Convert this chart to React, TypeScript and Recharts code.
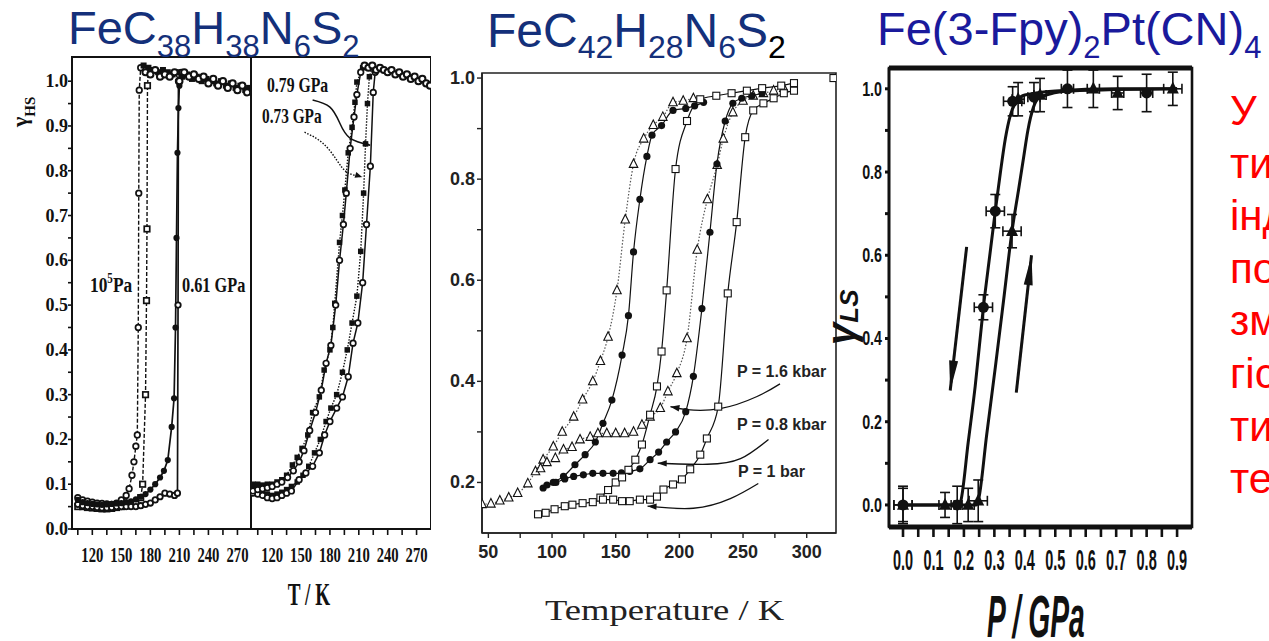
import React from "react";
import {
  ComposedChart,
  Line,
  Scatter,
  XAxis,
  YAxis,
  ReferenceArea,
  ReferenceLine,
  ErrorBar,
} from "recharts";

type Pt = [number, number];
type ErrPt = [number, number, number, number]; // x, y, x-error, y-error

// ---- FeC38H38N6S2, left frame: 10^5 Pa (dashed) and 0.61 GPa (solid) ----
const atmCooling: Pt[] = [
  [105, 0.07], [110, 0.065], [115, 0.062], [120, 0.06], [125, 0.058], [130, 0.057],
  [135, 0.056], [140, 0.055], [145, 0.058], [150, 0.065], [155, 0.075], [158, 0.09],
  [161, 0.12], [163, 0.15], [165, 0.185], [166.5, 0.21], [167.5, 0.45], [168, 0.75],
  [168.5, 0.98], [170, 1.03],
];
const atmHeating: Pt[] = [
  [105, 0.05], [110, 0.05], [115, 0.048], [120, 0.047], [125, 0.046], [130, 0.045],
  [135, 0.045], [140, 0.046], [145, 0.048], [150, 0.05], [155, 0.052], [160, 0.055],
  [165, 0.058], [170, 0.07], [172, 0.1], [175, 0.3], [176, 0.51], [176.5, 0.67],
  [177, 0.99], [178, 1.02],
];
const gpa061Heating: Pt[] = [
  [105, 0.065], [110, 0.06], [115, 0.058], [120, 0.056], [125, 0.055], [130, 0.054],
  [135, 0.055], [140, 0.056], [145, 0.057], [150, 0.058], [155, 0.06], [160, 0.062],
  [165, 0.066], [170, 0.072], [175, 0.078], [180, 0.088], [185, 0.1], [190, 0.115],
  [194, 0.13], [198, 0.154], [202, 0.228], [204.5, 0.292], [206, 0.45], [207, 0.65],
  [208, 0.84], [209, 0.94], [210, 0.99], [212, 1.01],
];
const gpa061Cooling: Pt[] = [
  [105, 0.055], [110, 0.052], [115, 0.05], [120, 0.05], [125, 0.048], [130, 0.047],
  [135, 0.047], [140, 0.048], [145, 0.05], [150, 0.05], [155, 0.05], [160, 0.05],
  [165, 0.05], [170, 0.052], [175, 0.055], [180, 0.058], [185, 0.065], [190, 0.072],
  [195, 0.08], [200, 0.078], [205, 0.075], [208, 0.08], [208.6, 0.5], [209, 1.0],
  [212, 1.02],
];
const hsPlateauSq: Pt[] = [
  [173, 1.035], [178, 1.03], [183, 1.025], [188, 1.02], [193, 1.025], [198, 1.02],
  [203, 1.015], [208, 1.02], [213, 1.01], [218, 1.015], [223, 1.005], [228, 1.01],
  [233, 1.0], [238, 1.005], [243, 1.0], [248, 0.995], [253, 1.0], [258, 0.99],
  [263, 0.995], [268, 0.985], [273, 0.99], [278, 0.98], [282, 0.985],
];
const hsPlateauCirc: Pt[] = [
  [175, 1.02], [180, 1.015], [185, 1.025], [190, 1.01], [195, 1.015], [200, 1.01],
  [205, 1.02], [210, 1.0], [215, 1.02], [220, 1.01], [225, 1.015], [230, 1.005],
  [235, 1.01], [240, 0.995], [245, 1.005], [250, 0.99], [255, 1.0], [260, 0.985],
  [265, 0.995], [270, 0.98], [275, 0.99], [280, 0.975],
];

// ---- FeC38H38N6S2, right frame: 0.79 GPa / 0.73 GPa ----
const gpa079Sq: Pt[] = [
  [100, 0.1], [105, 0.1], [110, 0.098], [115, 0.1], [120, 0.1], [125, 0.105],
  [130, 0.11], [135, 0.12], [141, 0.143], [146, 0.16], [151, 0.18], [157, 0.21],
  [162, 0.26], [169, 0.295], [174, 0.355], [180, 0.4], [183, 0.45], [185, 0.504],
  [190, 0.64], [193, 0.7], [195.5, 0.757], [199, 0.84], [203, 0.897], [206, 0.953],
  [208, 0.998], [214, 1.03],
];
const gpa079Circ: Pt[] = [
  [100, 0.085], [105, 0.088], [110, 0.09], [115, 0.092], [120, 0.095], [125, 0.1],
  [130, 0.105], [136, 0.115], [142, 0.13], [148, 0.15], [153, 0.175], [159, 0.22],
  [165, 0.26], [171, 0.31], [176, 0.37], [181, 0.41], [186, 0.5], [190, 0.6],
  [194, 0.68], [197, 0.75], [201, 0.85], [205, 0.92], [208, 0.97], [212, 1.02],
];
const gpa073Sq: Pt[] = [
  [100, 0.09], [105, 0.085], [110, 0.08], [115, 0.078], [120, 0.075], [125, 0.078],
  [130, 0.082], [135, 0.088], [140, 0.095], [146, 0.105], [152, 0.12], [158, 0.14],
  [164, 0.17], [170, 0.2], [176, 0.24], [181, 0.27], [187, 0.3], [193, 0.35],
  [198, 0.4], [203, 0.46], [208, 0.52], [212, 0.62], [215, 0.75], [217, 0.86],
  [219, 0.95], [221, 1.01], [224, 1.03],
];
const gpa073Circ: Pt[] = [
  [100, 0.08], [105, 0.078], [110, 0.075], [115, 0.07], [120, 0.068], [125, 0.07],
  [130, 0.075], [135, 0.08], [140, 0.085], [148, 0.11], [155, 0.125], [162, 0.14],
  [169, 0.17], [174.5, 0.21], [180, 0.24], [187, 0.27], [193, 0.295], [199, 0.34],
  [204, 0.415], [209, 0.46], [214, 0.55], [218, 0.68], [222, 0.81], [225, 0.975],
  [227, 1.02],
];
const hsPlateauHi: Pt[] = [
  [216, 1.035], [220, 1.03], [224, 1.035], [228, 1.025], [232, 1.03], [236, 1.025],
  [240, 1.02], [244, 1.025], [248, 1.015], [252, 1.02], [256, 1.01], [260, 1.015],
  [264, 1.005], [268, 1.01], [272, 1.0], [276, 1.005], [280, 0.995], [284, 0.99],
];
const arrow079: Pt[] = [[162, 0.958], [180, 0.942], [190.3, 0.906], [200.8, 0.873], [221.8, 0.857]];
const arrow073: Pt[] = [[153.6, 0.886], [172.4, 0.862], [187, 0.824], [197.6, 0.797], [213.4, 0.786]];

const hsTempTicks = [105, 120, 135, 150, 165, 180, 195, 210, 225, 240, 255, 270];
const hsFracTicks = [
  0, 0.05, 0.1, 0.15, 0.2, 0.25, 0.3, 0.35, 0.4, 0.45, 0.5,
  0.55, 0.6, 0.65, 0.7, 0.75, 0.8, 0.85, 0.9, 0.95, 1.0,
];

// ---- FeC42H28N6S2: P = 1.6 kbar (triangles), 0.8 kbar (dots), 1 bar (squares) ----
const tri16Cooling: Pt[] = [
  [45, 0.157], [52, 0.158], [59, 0.164], [66, 0.17], [73, 0.179], [81, 0.198],
  [87, 0.222], [93, 0.245], [101, 0.271], [108, 0.3], [117, 0.33], [124, 0.364],
  [132, 0.4], [138, 0.44], [144, 0.488], [151, 0.58], [157.5, 0.72], [164, 0.83],
  [172, 0.88], [179.5, 0.907], [187, 0.923], [195, 0.952], [203, 0.955], [211, 0.96],
];
const tri16Heating: Pt[] = [
  [91, 0.228], [96, 0.24], [102.6, 0.248], [109, 0.265], [115.7, 0.27], [122, 0.285],
  [130, 0.29], [136, 0.297], [143, 0.297], [150, 0.297], [157, 0.297], [164, 0.3],
  [170.6, 0.314], [177, 0.33], [185, 0.347], [191, 0.38], [198, 0.416], [206, 0.485],
  [214, 0.66], [222, 0.76], [229.7, 0.828], [234.5, 0.88], [242, 0.932], [250, 0.955],
  [258, 0.965], [266, 0.97], [274, 0.975], [282, 0.98],
];
const dot08Cooling: Pt[] = [
  [93, 0.189], [101, 0.2], [109, 0.212], [118, 0.235], [126, 0.255], [134, 0.28],
  [140, 0.317], [147, 0.363], [155, 0.452], [160, 0.53], [164, 0.656], [169, 0.76],
  [174.5, 0.845], [178.5, 0.887], [186, 0.906], [195, 0.936], [205, 0.94], [212, 0.945],
  [219, 0.952],
];
const dot08Heating: Pt[] = [
  [96, 0.195], [103, 0.2], [110, 0.207], [117, 0.212], [124.6, 0.215], [132, 0.218],
  [140, 0.218], [148, 0.218], [154.5, 0.219], [161, 0.222], [169, 0.227], [177, 0.245],
  [183.7, 0.26], [190, 0.28], [197, 0.3], [205, 0.34], [211, 0.41], [217.7, 0.544],
  [224, 0.695], [229.5, 0.83], [236, 0.915], [242, 0.95], [249, 0.96], [257, 0.965],
  [265, 0.97],
];
const sq1Heating: Pt[] = [
  [89, 0.137], [95, 0.14], [102, 0.147], [110, 0.153], [116, 0.156], [124, 0.159],
  [132, 0.161], [140, 0.166], [148, 0.166], [155, 0.163], [161, 0.163], [169, 0.166],
  [177, 0.166], [182.4, 0.172], [187.5, 0.186], [195, 0.196], [202, 0.206],
  [208.5, 0.226], [216.4, 0.255], [221.6, 0.287], [230.5, 0.35], [238, 0.574],
  [245, 0.715], [251.7, 0.883], [258, 0.936], [266, 0.95], [274, 0.96], [282, 0.97],
  [290, 0.975],
];
const sq1Cooling: Pt[] = [
  [138, 0.17], [144, 0.185], [150, 0.2], [155, 0.21], [160, 0.225], [165.4, 0.245],
  [170.6, 0.275], [177, 0.334], [182.4, 0.39], [186, 0.459], [190, 0.58], [197, 0.82],
  [206, 0.915], [216.4, 0.958], [229, 0.965], [241, 0.97], [253, 0.975], [265, 0.98],
  [280, 0.985], [290, 0.99],
];
const sq1Edge: Pt[] = [[321, 1.0]];
const arrow16: Pt[] = [[279, 0.395], [261, 0.37], [232, 0.346], [206, 0.344], [193, 0.35]];
const arrow08: Pt[] = [[270, 0.285], [248, 0.247], [222, 0.236], [183, 0.238]];
const arrow1: Pt[] = [[262, 0.198], [240, 0.168], [211, 0.149], [175, 0.153]];

const lsTempTicks = [50, 75, 100, 125, 150, 175, 200, 225, 250, 275, 300];
const lsFracTicks = [0.2, 0.3, 0.4, 0.5, 0.6, 0.7, 0.8, 0.9, 1.0];

// ---- Fe(3-Fpy)2Pt(CN)4 versus pressure ----
const fpyCircles: ErrPt[] = [
  [0.0, 0.0, 0.03, 0.045], [0.178, 0.0, 0.01, 0.045], [0.264, 0.475, 0.03, 0.03],
  [0.303, 0.706, 0.03, 0.04], [0.36, 0.97, 0.03, 0.035], [0.43, 0.98, 0.02, 0.035],
  [0.54, 1.0, 0.02, 0.045], [0.8, 0.99, 0.02, 0.045],
];
const fpyTriangles: ErrPt[] = [
  [0.0, 0.0, 0.03, 0.04], [0.138, 0.0, 0.02, 0.03], [0.214, 0.0, 0.02, 0.04],
  [0.247, 0.01, 0.03, 0.05], [0.358, 0.658, 0.03, 0.04], [0.378, 0.975, 0.02, 0.04],
  [0.45, 0.985, 0.02, 0.04], [0.625, 1.0, 0.02, 0.045], [0.705, 0.99, 0.02, 0.04],
  [0.886, 1.0, 0.03, 0.04],
];
const fpyFitDown: Pt[] = [
  [0, 0], [0.1, 0], [0.185, 0], [0.19, 0.01], [0.214, 0.15], [0.237, 0.285],
  [0.264, 0.475], [0.285, 0.6], [0.303, 0.706], [0.32, 0.8], [0.336, 0.88],
  [0.352, 0.935], [0.368, 0.965], [0.4, 0.985], [0.5, 0.995], [0.7, 1.0], [0.9, 1.0],
];
const fpyFitUp: Pt[] = [
  [0, 0], [0.24, 0], [0.247, 0.01], [0.275, 0.17], [0.303, 0.33], [0.33, 0.49],
  [0.358, 0.658], [0.38, 0.76], [0.395, 0.83], [0.41, 0.9], [0.428, 0.955],
  [0.45, 0.98], [0.55, 0.995], [0.9, 1.0],
];
const arrowDown: Pt[] = [[0.209, 0.62], [0.155, 0.275]];
const arrowUp: Pt[] = [[0.372, 0.27], [0.422, 0.6]];

const pTicks = [
  0, 0.05, 0.1, 0.15, 0.2, 0.25, 0.3, 0.35, 0.4, 0.45, 0.5,
  0.55, 0.6, 0.65, 0.7, 0.75, 0.8, 0.85, 0.9,
];
const pFracTicks = [0, 0.1, 0.2, 0.3, 0.4, 0.5, 0.6, 0.7, 0.8, 0.9, 1.0];

const sideNote = ["У", "ти", "інд", "по", "зм", "гіс", "ти", "те"];

const INK = "#111";
const serif = "'Liberation Serif', 'Times New Roman', serif";
const sans = "'Liberation Sans', Arial, sans-serif";

const rows = (pts: Pt[]) => pts.map(([x, y]) => ({ x, y }));
const errRows = (pts: ErrPt[]) => pts.map(([x, y, ex, ey]) => ({ x, y, ex, ey }));
const isTenth = (v: number, every = 1) =>
  Math.abs(v * 10 - Math.round(v * 10)) < 1e-6 && Math.round(v * 10) % every === 0;

// horizontally squeezed text (the scanned figures use narrow faces)
function Narrow(props: {
  x: number; y: number; sx: number; anchor?: "start" | "middle" | "end";
  family: string; size: number; weight?: number; italic?: boolean; fill?: string;
  children: React.ReactNode;
}) {
  return (
    <text
      transform={`translate(${props.x},${props.y}) scale(${props.sx},1)`}
      textAnchor={props.anchor ?? "start"}
      fontFamily={props.family}
      fontSize={props.size}
      fontWeight={props.weight ?? 700}
      fontStyle={props.italic ? "italic" : "normal"}
      fill={props.fill ?? INK}
    >
      {props.children}
    </text>
  );
}

// marker shapes used as Line dots / Scatter shapes
const openCircle = (r: number, sw = 1.2) => (p: any) =>
  p.cx == null ? <g key={p.index} /> : (
    <circle key={p.index} cx={p.cx} cy={p.cy} r={r} fill="#fff" stroke={INK} strokeWidth={sw} />
  );
const filledCircle = (r: number) => (p: any) =>
  p.cx == null ? <g key={p.index} /> : <circle key={p.index} cx={p.cx} cy={p.cy} r={r} fill={INK} />;
const openSquare = (s: number, sw = 1.2) => (p: any) =>
  p.cx == null ? <g key={p.index} /> : (
    <rect key={p.index} x={p.cx - s / 2} y={p.cy - s / 2} width={s} height={s} fill="#fff" stroke={INK} strokeWidth={sw} />
  );
const filledSquare = (s: number) => (p: any) =>
  p.cx == null ? <g key={p.index} /> : (
    <rect key={p.index} x={p.cx - s / 2} y={p.cy - s / 2} width={s} height={s} fill={INK} />
  );
const triPoints = (cx: number, cy: number, s: number) =>
  `${cx},${cy - s * 0.6} ${cx - s / 2},${cy + s * 0.4} ${cx + s / 2},${cy + s * 0.4}`;
const openTriangle = (s: number, sw = 1.1) => (p: any) =>
  p.cx == null ? <g key={p.index} /> : (
    <polygon key={p.index} points={triPoints(p.cx, p.cy, s)} fill="#fff" stroke={INK} strokeWidth={sw} />
  );
const filledTriangle = (s: number) => (p: any) =>
  p.cx == null ? <g key={p.index} /> : <polygon key={p.index} points={triPoints(p.cx, p.cy, s)} fill={INK} />;

// filled arrowhead on the last point of a Line
const arrowTip = (count: number, len: number, half: number, fallbackDeg: number) => (p: any) => {
  if (p.index !== count - 1 || p.cx == null) return <g key={p.index} />;
  let ang = (fallbackDeg * Math.PI) / 180;
  const pts = p.points as { x: number; y: number }[] | undefined;
  if (pts && pts.length > 1) {
    const prev = pts[pts.length - 2];
    ang = Math.atan2(p.cy - prev.y, p.cx - prev.x);
  }
  const bx = p.cx - len * Math.cos(ang);
  const by = p.cy - len * Math.sin(ang);
  const nx = -Math.sin(ang) * half;
  const ny = Math.cos(ang) * half;
  return (
    <polygon
      key={p.index}
      points={`${p.cx},${p.cy} ${bx + nx},${by + ny} ${bx - nx},${by - ny}`}
      fill={INK}
    />
  );
};

// ---- tick renderers ----
const hsXTick = (props: any) => {
  const v = props.payload.value as number;
  if (v % 30 !== 0) return <g />;
  return (
    <Narrow x={props.x} y={props.y + 25} sx={0.7} anchor="middle" family={serif} size={21}>
      {v}
    </Narrow>
  );
};
const hsYTick = (props: any) => {
  const v = props.payload.value as number;
  if (!isTenth(v)) return <g />;
  return (
    <text x={props.x + 2} y={props.y + 6} textAnchor="end" fontFamily={serif} fontWeight={700}
      fontSize={18} fill={INK}>
      {v.toFixed(1)}
    </text>
  );
};
const lsXTick = (props: any) => {
  const v = props.payload.value as number;
  if (v % 50 !== 0) return <g />;
  return (
    <text x={props.x} y={props.y + 18} textAnchor="middle" fontFamily={sans} fontWeight={700}
      fontSize={18} fill="#222">
      {v}
    </text>
  );
};
const lsYTick = (props: any) => {
  const v = props.payload.value as number;
  if (!isTenth(v, 2)) return <g />;
  return (
    <text x={props.x} y={props.y + 6} textAnchor="end" fontFamily={sans} fontWeight={700}
      fontSize={18} fill="#222">
      {v.toFixed(1)}
    </text>
  );
};
const pXTick = (props: any) => {
  const v = props.payload.value as number;
  if (!isTenth(v)) return <g />;
  return (
    <Narrow x={props.x} y={props.y + 31} sx={0.5} anchor="middle" family={sans} size={29}>
      {v.toFixed(1)}
    </Narrow>
  );
};
const pYTick = (props: any) => {
  const v = props.payload.value as number;
  if (!isTenth(v, 2)) return <g />;
  return (
    <Narrow x={props.x - 1} y={props.y + 7} sx={0.68} anchor="end" family={sans} size={21}>
      {v.toFixed(1)}
    </Narrow>
  );
};

const lineBase = {
  dataKey: "y",
  stroke: INK,
  isAnimationActive: false,
  legendType: "none" as const,
  activeDot: false,
};

function HsLeft() {
  return (
    <ComposedChart width={251} height={580} margin={{ top: 57, right: 0, bottom: 0, left: 0 }}>
      <XAxis dataKey="x" type="number" domain={[99, 284]} ticks={hsTempTicks} interval={0}
        allowDataOverflow height={51} tickSize={6} tick={hsXTick}
        axisLine={{ stroke: INK, strokeWidth: 2 }} tickLine={{ stroke: INK, strokeWidth: 1.6 }} />
      <YAxis type="number" domain={[0, 1.054]} ticks={hsFracTicks} interval={0} allowDataOverflow
        width={72} tickSize={4} tick={hsYTick}
        axisLine={{ stroke: INK, strokeWidth: 2 }} tickLine={{ stroke: INK, strokeWidth: 1.6 }} />
      <ReferenceArea x1={99} x2={284} y1={0} y2={1.054} fill="none" stroke={INK} strokeWidth={2} />
      <Line {...lineBase} data={rows(atmCooling)} type="linear" strokeWidth={1.4} strokeDasharray="4 2"
        dot={openCircle(2.8, 1.7)} />
      <Line {...lineBase} data={rows(atmHeating)} type="linear" strokeWidth={1.4} strokeDasharray="4 2"
        dot={openSquare(5.5, 1.7)} />
      <Line {...lineBase} data={rows(gpa061Cooling)} type="linear" strokeWidth={1.7}
        dot={openCircle(2.7, 1.8)} />
      <Line {...lineBase} data={rows(gpa061Heating)} type="linear" strokeWidth={1.7}
        dot={filledCircle(3.1)} />
      <Line {...lineBase} data={rows(hsPlateauSq)} type="linear" strokeWidth={1.6}
        dot={filledSquare(6)} />
      <Line {...lineBase} data={rows(hsPlateauCirc)} type="linear" strokeWidth={1.4}
        dot={openCircle(3.1, 2)} />
    </ComposedChart>
  );
}

function HsRight() {
  return (
    <ComposedChart width={180} height={580} margin={{ top: 57, right: 0, bottom: 0, left: 0 }}>
      <XAxis dataKey="x" type="number" domain={[98, 285]} ticks={hsTempTicks} interval={0}
        allowDataOverflow height={51} tickSize={6} tick={hsXTick}
        axisLine={{ stroke: INK, strokeWidth: 2 }} tickLine={{ stroke: INK, strokeWidth: 1.6 }} />
      <YAxis hide type="number" domain={[0, 1.054]} allowDataOverflow />
      <ReferenceArea x1={98} x2={285} y1={0} y2={1.054} fill="none" stroke={INK} strokeWidth={2} />
      <Line {...lineBase} data={rows(gpa073Sq)} type="linear" strokeWidth={1.4} strokeDasharray="1.5 1.5"
        dot={filledSquare(5.5)} />
      <Line {...lineBase} data={rows(gpa073Circ)} type="linear" strokeWidth={1.5}
        dot={openCircle(2.8, 1.7)} />
      <Line {...lineBase} data={rows(gpa079Sq)} type="linear" strokeWidth={1.4} strokeDasharray="1.5 1.5"
        dot={filledSquare(5.5)} />
      <Line {...lineBase} data={rows(gpa079Circ)} type="linear" strokeWidth={1.5}
        dot={openCircle(2.8, 1.7)} />
      <Line {...lineBase} data={rows(hsPlateauHi)} type="linear" strokeWidth={1.4}
        dot={openCircle(3.1, 2)} />
      <Line {...lineBase} data={rows(arrow079)} type="natural" strokeWidth={1.5}
        dot={arrowTip(arrow079.length, 7, 3, 18)} />
      <Line {...lineBase} data={rows(arrow073)} type="natural" strokeWidth={1.4} strokeDasharray="1.5 1.5"
        dot={arrowTip(arrow073.length, 7, 3, 18)} />
    </ComposedChart>
  );
}

function LsTemperature() {
  return (
    <ComposedChart width={420} height={600} margin={{ top: 73, right: 24, bottom: 0, left: 0 }}>
      <XAxis dataKey="x" type="number" domain={[45, 323]} ticks={lsTempTicks} interval={0}
        allowDataOverflow height={67} tickSize={5} tick={lsXTick}
        axisLine={{ stroke: "#222", strokeWidth: 1.6 }} tickLine={{ stroke: "#222", strokeWidth: 1.4 }} />
      <XAxis xAxisId="top" orientation="top" mirror type="number" domain={[45, 323]} ticks={lsTempTicks}
        interval={0} allowDataOverflow tick={false} tickSize={4} axisLine={false}
        tickLine={{ stroke: "#222", strokeWidth: 1.2 }} />
      <YAxis type="number" domain={[0.1, 1.01]} ticks={lsFracTicks} interval={0} allowDataOverflow
        width={42} tickSize={5} tick={lsYTick}
        axisLine={{ stroke: "#222", strokeWidth: 1.6 }} tickLine={{ stroke: "#222", strokeWidth: 1.4 }} />
      <YAxis yAxisId="r" orientation="right" mirror type="number" domain={[0.1, 1.01]} ticks={lsFracTicks}
        interval={0} allowDataOverflow tick={false} tickSize={4} axisLine={false}
        tickLine={{ stroke: "#222", strokeWidth: 1.2 }} />
      <ReferenceArea x1={45} x2={323} y1={0.1} y2={1.01} fill="none" stroke="#222" strokeWidth={1.6} />
      <Line {...lineBase} data={rows(tri16Cooling)} type="monotone" stroke="#555" strokeWidth={1.2}
        strokeDasharray="1.5 1.8" dot={openTriangle(8.5)} />
      <Line {...lineBase} data={rows(tri16Heating)} type="monotone" stroke="#555" strokeWidth={1.2}
        strokeDasharray="1.5 1.8" dot={openTriangle(8.5)} />
      <Line {...lineBase} data={rows(dot08Cooling)} type="monotone" strokeWidth={1.2}
        dot={filledCircle(3.6)} />
      <Line {...lineBase} data={rows(dot08Heating)} type="monotone" strokeWidth={1.2}
        dot={filledCircle(3.6)} />
      <Line {...lineBase} data={rows(sq1Cooling)} type="monotone" strokeWidth={1.2}
        dot={openSquare(7, 1.1)} />
      <Line {...lineBase} data={rows(sq1Heating)} type="monotone" strokeWidth={1.2}
        dot={openSquare(7, 1.1)} />
      <Scatter data={rows(sq1Edge)} dataKey="y" isAnimationActive={false} shape={openSquare(7, 1.1)} />
      <Line {...lineBase} data={rows(arrow16)} type="natural" strokeWidth={1.3}
        dot={arrowTip(arrow16.length, 9, 3.2, 180)} />
      <Line {...lineBase} data={rows(arrow08)} type="natural" strokeWidth={1.3}
        dot={arrowTip(arrow08.length, 9, 3.2, 180)} />
      <Line {...lineBase} data={rows(arrow1)} type="natural" strokeWidth={1.3}
        dot={arrowTip(arrow1.length, 9, 3.2, 180)} />
    </ComposedChart>
  );
}

function LsPressure() {
  return (
    <ComposedChart width={340} height={600} margin={{ top: 68, right: 8, bottom: 0, left: 0 }}>
      <XAxis dataKey="x" type="number" domain={[-0.046, 0.949]} ticks={pTicks} interval={0}
        allowDataOverflow height={73} tickSize={10} tick={pXTick}
        axisLine={{ stroke: INK, strokeWidth: 5 }} tickLine={{ stroke: INK, strokeWidth: 2.6 }} />
      <YAxis type="number" domain={[-0.053, 1.05]} ticks={pFracTicks} interval={0} allowDataOverflow
        width={29} tickSize={4} tick={pYTick}
        axisLine={{ stroke: INK, strokeWidth: 2.6 }} tickLine={{ stroke: INK, strokeWidth: 3 }} />
      <ReferenceArea x1={-0.046} x2={0.949} y1={-0.053} y2={1.05} fill="none" stroke={INK} strokeWidth={2.6} />
      <ReferenceLine y={1.05} stroke={INK} strokeWidth={5} />
      <Line {...lineBase} data={rows(fpyFitDown)} type="monotone" strokeWidth={3} dot={false} />
      <Line {...lineBase} data={rows(fpyFitUp)} type="monotone" strokeWidth={3} dot={false} />
      <Scatter data={errRows(fpyTriangles)} dataKey="y" isAnimationActive={false} shape={filledTriangle(12)}>
        <ErrorBar dataKey="ex" direction="x" width={5} stroke={INK} strokeWidth={1.6} />
        <ErrorBar dataKey="ey" direction="y" width={5} stroke={INK} strokeWidth={1.6} />
      </Scatter>
      <Scatter data={errRows(fpyCircles)} dataKey="y" isAnimationActive={false} shape={filledCircle(5.5)}>
        <ErrorBar dataKey="ex" direction="x" width={5} stroke={INK} strokeWidth={1.6} />
        <ErrorBar dataKey="ey" direction="y" width={5} stroke={INK} strokeWidth={1.6} />
      </Scatter>
      <Line {...lineBase} data={rows(arrowDown)} type="linear" strokeWidth={3}
        dot={arrowTip(arrowDown.length, 30, 4.5, 97)} />
      <Line {...lineBase} data={rows(arrowUp)} type="linear" strokeWidth={3}
        dot={arrowTip(arrowUp.length, 30, 4.5, -84)} />
    </ComposedChart>
  );
}

function Labels() {
  const navy = "#14307a";
  const blue = "#1a1a9c";
  return (
    <svg width={1269} height={641} style={{ position: "absolute", left: 0, top: 0, pointerEvents: "none" }}>
      {/* compound names */}
      <text x={68} y={44} fontFamily={sans} fontSize={47} fill={navy}>
        FeC<tspan fontSize={31} dy={13}>38</tspan>
        <tspan dy={-13}>H</tspan><tspan fontSize={31} dy={13}>38</tspan>
        <tspan dy={-13}>N</tspan><tspan fontSize={31} dy={13}>6</tspan>
        <tspan dy={-13}>S</tspan><tspan fontSize={31} dy={13}>2</tspan>
      </text>
      <text x={487} y={47} fontFamily={sans} fontSize={48} fill={navy}>
        FeC<tspan fontSize={32} dy={11}>42</tspan>
        <tspan dy={-11}>H</tspan><tspan fontSize={32} dy={11}>28</tspan>
        <tspan dy={-11}>N</tspan><tspan fontSize={32} dy={11}>6</tspan>
        <tspan dy={-11}>S</tspan><tspan fontSize={32} dy={11} fill="#000">2</tspan>
      </text>
      <text x={877} y={45} fontFamily={sans} fontSize={47} fill={blue}>
        Fe(3-Fpy)<tspan fontSize={31} dy={13}>2</tspan>
        <tspan dy={-13}>Pt(CN)</tspan><tspan fontSize={31} dy={13}>4</tspan>
      </text>

      {/* left panel captions */}
      <text transform="translate(27,127) rotate(-90)" fontFamily={serif} fontWeight={700} fontSize={22} fill={INK}>
        γ<tspan fontSize={15} dy={8}>HS</tspan>
      </text>
      <Narrow x={90} y={292} sx={0.79} family={serif} size={22}>
        10<tspan fontSize={14} dy={-9}>5</tspan><tspan dy={9}>Pa</tspan>
      </Narrow>
      <Narrow x={182} y={292} sx={0.74} family={serif} size={22}>0.61 GPa</Narrow>
      <Narrow x={267} y={92} sx={0.75} family={serif} size={21}>0.79 GPa</Narrow>
      <Narrow x={262} y={123} sx={0.73} family={serif} size={21}>0.73 GPa</Narrow>
      <Narrow x={309} y={605} sx={0.6} anchor="middle" family={serif} size={32}>T / K</Narrow>

      {/* middle panel captions */}
      <text x={737} y={377} fontFamily={sans} fontWeight={700} fontSize={16} fill="#222">P = 1.6 kbar</text>
      <text x={737} y={430} fontFamily={sans} fontWeight={700} fontSize={16} fill="#222">P = 0.8 kbar</text>
      <text x={738} y={477} fontFamily={sans} fontWeight={700} fontSize={16} fill="#222">P = 1 bar</text>
      <Narrow x={545} y={620} sx={1.22} family={serif} size={30} weight={400} fill="#222">Temperature / K</Narrow>

      {/* right panel captions */}
      <text transform="translate(855,345) rotate(-90)" fontFamily={sans} fontStyle="italic" fontWeight={700}
        fontSize={40} fill={INK}>
        γ<tspan fontSize={26} dy={3}>LS</tspan>
      </text>
      <Narrow x={987} y={637} sx={0.47} family={sans} size={60} italic>P / GPa</Narrow>

      {sideNote.map((t, i) => (
        <text key={i} x={1230} y={125 + i * 52.6} fontFamily={sans} fontSize={42} fill="#ff0000">{t}</text>
      ))}
    </svg>
  );
}

export default function App() {
  return (
    <div style={{ position: "absolute", left: 0, top: 0, width: 1269, height: 641, overflow: "hidden", background: "#fff" }}>
      <div style={{ position: "absolute", left: 0, top: 0 }}><HsLeft /></div>
      <div style={{ position: "absolute", left: 251, top: 0 }}><HsRight /></div>
      <div style={{ position: "absolute", left: 440, top: 0 }}><LsTemperature /></div>
      <div style={{ position: "absolute", left: 860, top: 0 }}><LsPressure /></div>
      <Labels />
    </div>
  );
}
